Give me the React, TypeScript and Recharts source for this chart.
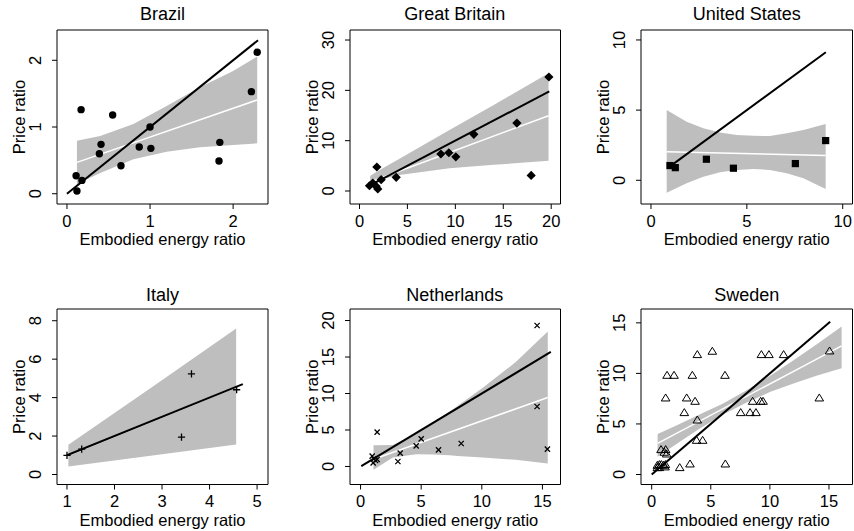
import { ComposedChart, XAxis, YAxis, Scatter, Line, Area, ReferenceArea, Label } from "recharts";

const FONT = '"Liberation Sans", Arial, Helvetica, sans-serif';

// Brazil
const brazilPoints = [
  [0.12, 0.04], [0.11, 0.27], [0.18, 0.2], [0.17, 1.26], [0.55, 1.18], [0.41, 0.74], [0.39, 0.6],
  [0.65, 0.42], [0.87, 0.7], [1.0, 1.0], [1.01, 0.68], [1.84, 0.77], [1.83, 0.49], [2.22, 1.53], [2.29, 2.12],
];
const brazilDiag = [[0, 0], [2.3, 2.3]];
const brazilFit = [[0.12, 0.47], [2.29, 1.405]];
const brazilBand = [
  [0.12, 0.145, 0.795], [0.4, 0.31, 0.865], [0.8, 0.515, 1.045], [1.2, 0.63, 1.315],
  [1.6, 0.695, 1.595], [2.0, 0.73, 1.84], [2.29, 0.755, 2.055],
];

// Great Britain
const gbPoints = [
  [1.04, 1.05], [1.39, 1.59], [1.74, 0.93], [1.91, 0.4], [2.26, 2.25], [1.81, 4.77],
  [3.83, 2.72], [8.49, 7.35], [9.32, 7.6], [10.05, 6.8], [11.93, 11.26], [16.42, 13.5], [17.91, 3.1], [19.76, 22.65],
];
const gbDiag = [[0.95, 0.95], [19.8, 19.8]];
const gbFit = [[1.12, 1.8], [19.72, 14.96]];
const gbBand = [
  [1.12, 1.4, 3.04], [2.43, 2.4, 4.5], [4.17, 3.2, 6.4], [9.39, 4.5, 12.1], [14, 5.2, 17.1], [19.72, 6.0, 23.4],
];

// United States
const usPoints = [[0.99, 1.05], [1.27, 0.9], [2.89, 1.5], [4.3, 0.86], [7.53, 1.19], [9.11, 2.83]];
const usDiag = [[1.1, 1.1], [9.12, 9.12]];
const usFit = [[0.82, 2.04], [9.11, 1.76]];
const usBand = [
  [0.82, -0.88, 5.01], [1.86, -0.21, 4.18], [2.73, 0.26, 3.7], [3.6, 0.57, 3.4], [4.47, 0.74, 3.23],
  [5.34, 0.8, 3.17], [6.2, 0.74, 3.16], [7.08, 0.5, 3.35], [7.95, 0.14, 3.59], [9.11, -0.62, 4.01],
];

// Italy
const italyPoints = [[1.0, 0.99], [1.31, 1.32], [3.62, 5.24], [3.41, 1.94], [4.57, 4.41]];
const italyDiag = [[1.0, 1.0], [4.7, 4.7]];
const italyFit = [[1.03, 1.0], [4.56, 4.55]];
const italyBand = [[1.03, 0.42, 1.55], [2.8, 0.99, 4.57], [4.56, 1.56, 7.59]];

// Netherlands
const nlPoints = [
  [14.56, 19.32], [14.56, 8.22], [15.41, 2.37], [8.3, 3.15], [6.43, 2.28], [5.0, 3.79], [4.59, 2.83],
  [3.27, 1.83], [3.08, 0.68], [1.37, 4.7], [0.96, 1.42], [1.1, 1.05], [1.24, 0.82], [1.04, 0.5], [1.37, 0.96],
];
const nlDiag = [[0.06, 0.06], [15.69, 15.69]];
const nlFit = [[1.07, 1.0], [15.44, 9.45]];
const nlBand = [
  [1.07, -0.45, 2.92], [2.66, 1.23, 2.95], [4, 1.55, 4.0], [4.59, 1.69, 4.6], [6, 1.65, 6.0], [7.33, 1.55, 7.5],
  [8, 1.45, 8.3], [10.08, 1.23, 10.8], [12.8, 0.91, 14.3], [15.44, 0.41, 18.5],
];

// Sweden
const swPoints = [
  [15.05, 12.2], [14.18, 7.55], [11.16, 11.84], [9.92, 11.84], [9.28, 11.84], [5.13, 12.17], [3.86, 11.84],
  [1.3, 9.79], [1.89, 9.79], [3.44, 9.79], [6.2, 9.79], [1.18, 7.55], [2.96, 7.55], [3.67, 7.22], [2.76, 6.1],
  [3.86, 5.37], [8.54, 7.22], [9.22, 7.22], [9.42, 7.22], [7.53, 6.1], [8.32, 6.1], [8.82, 6.1], [3.8, 3.36],
  [4.31, 3.36], [3.24, 1.02], [2.37, 0.66], [6.23, 1.02], [0.79, 2.44], [1.18, 2.44], [1.07, 2.18], [1.27, 2.01],
  [0.48, 0.89], [0.65, 0.96], [0.82, 0.96], [0.99, 0.89], [1.16, 0.96], [0.48, 0.66], [0.65, 0.66], [1.13, 0.73],
];
const swDiag = [[0, 0], [15.1, 15.1]];
const swFit = [[0.5, 3.07], [16.07, 12.73]];
const swBand = [
  [0.5, 1.75, 4.0], [2, 2.95, 4.8], [4, 4.5, 5.9], [6, 5.9, 7.0], [8, 7.1, 8.3], [10, 8.15, 9.75],
  [12, 9.0, 11.3], [14, 9.8, 12.9], [16.07, 10.5, 14.64],
];

const toXY = (arr: number[][]) => arr.map(([x, y]) => ({ x, y }));
const toBand = (arr: number[][]) => arr.map(([x, lo, hi]) => ({ x, range: [lo, hi] }));

const markers: Record<string, (cx: number, cy: number) => any> = {
  circle: (cx, cy) => <circle cx={cx} cy={cy} r={3.7} fill="#000" />,
  diamond: (cx, cy) => (
    <path d={`M${cx},${cy - 4.6}L${cx + 4.6},${cy}L${cx},${cy + 4.6}L${cx - 4.6},${cy}Z`} fill="#000" />
  ),
  square: (cx, cy) => <rect x={cx - 3.6} y={cy - 3.6} width={7.2} height={7.2} fill="#000" />,
  plus: (cx, cy) => (
    <path d={`M${cx - 3.6},${cy}H${cx + 3.6}M${cx},${cy - 3.6}V${cy + 3.6}`} stroke="#000" strokeWidth={1.3} />
  ),
  cross: (cx, cy) => (
    <path
      d={`M${cx - 2.6},${cy - 2.6}L${cx + 2.6},${cy + 2.6}M${cx - 2.6},${cy + 2.6}L${cx + 2.6},${cy - 2.6}`}
      stroke="#000"
      strokeWidth={1.3}
    />
  ),
  triangle: (cx, cy) => (
    <path
      d={`M${cx},${cy - 4.2}L${cx + 4.3},${cy + 2.8}L${cx - 4.3},${cy + 2.8}Z`}
      fill="none"
      stroke="#000"
      strokeWidth={1}
    />
  ),
};

const panels = [
  { title: "Brazil", points: brazilPoints, diag: brazilDiag, fit: brazilFit, band: brazilBand,
    xTicks: [0, 1, 2], yTicks: [0, 1, 2], xDomain: [-0.12, 2.42], yDomain: [-0.154, 2.454],
    marker: "circle", box: [57, 30, 268, 204], titleY: 20.7 },
  { title: "Great Britain", points: gbPoints, diag: gbDiag, fit: gbFit, band: gbBand,
    xTicks: [0, 5, 10, 15, 20], yTicks: [0, 10, 20, 30], xDomain: [-0.99, 20.97], yDomain: [-2.58, 31.99],
    marker: "diamond", box: [349.5, 30, 560, 204], titleY: 20.7 },
  { title: "United States", points: usPoints, diag: usDiag, fit: usFit, band: usBand,
    xTicks: [0, 5, 10], yTicks: [0, 5, 10], xDomain: [-0.52, 10.51], yDomain: [-1.69, 10.71],
    marker: "square", box: [641, 30, 852.5, 204], titleY: 20.7 },
  { title: "Italy", points: italyPoints, diag: italyDiag, fit: italyFit, band: italyBand,
    xTicks: [1, 2, 3, 4, 5], yTicks: [0, 2, 4, 6, 8], xDomain: [0.79, 5.23], yDomain: [-0.52, 8.61],
    marker: "plus", box: [57, 308.5, 268, 484], titleY: 301 },
  { title: "Netherlands", points: nlPoints, diag: nlDiag, fit: nlFit, band: nlBand,
    xTicks: [0, 5, 10, 15], yTicks: [0, 5, 10, 15, 20], xDomain: [-0.87, 16.49], yDomain: [-2.47, 21.58],
    marker: "cross", box: [349.5, 308.5, 560, 484], titleY: 301 },
  { title: "Sweden", points: swPoints, diag: swDiag, fit: swFit, band: swBand,
    xTicks: [0, 5, 10, 15], yTicks: [0, 5, 10, 15], xDomain: [-0.905, 16.99], yDomain: [-0.99, 16.37],
    marker: "triangle", box: [641, 308.5, 852.5, 484], titleY: 301 },
];

const ML = 57;
const MT = 30;

function Panel({ p }: { p: any }) {
  const [bx, by, bx2, by2] = p.box;
  const bw = bx2 - bx;
  const bh = by2 - by;
  const W = ML + bw + 4;
  const H = MT + bh + 50;
  const mark = markers[p.marker];

  const xTick = ({ x, payload }: any) => (
    <text x={x} y={MT + bh + 22.7} textAnchor="middle" fontSize={16.5} fontFamily={FONT} fill="#000">
      {payload.value}
    </text>
  );
  const yTick = ({ y, payload }: any) => (
    <text
      x={ML - 15.5}
      y={y}
      transform={`rotate(-90, ${ML - 15.5}, ${y})`}
      textAnchor="middle"
      fontSize={16.5}
      fontFamily={FONT}
      fill="#000"
    >
      {payload.value}
    </text>
  );

  return (
    <>
      <div
        style={{
          position: "absolute", left: bx, top: p.titleY - 15.3, width: bw, textAlign: "center",
          fontSize: 18, lineHeight: "18px", fontFamily: FONT, fontWeight: 400, color: "#000", whiteSpace: "nowrap",
        }}
      >
        {p.title}
      </div>
      <div style={{ position: "absolute", left: bx - ML, top: by - MT }}>
        <ComposedChart width={W} height={H} margin={{ top: MT, right: 4, left: 0, bottom: 0 }}>
          <XAxis
            type="number"
            dataKey="x"
            domain={p.xDomain}
            ticks={p.xTicks}
            allowDataOverflow
            axisLine={false}
            tickLine={{ stroke: "#000" }}
            tickSize={5}
            height={50}
            tick={xTick}
            interval={0}
          >
            <Label
              content={() => (
                <text x={ML + bw / 2} y={MT + bh + 41} textAnchor="middle" fontSize={16.5} fontFamily={FONT} fill="#000">
                  Embodied energy ratio
                </text>
              )}
            />
          </XAxis>
          <YAxis
            type="number"
            dataKey="y"
            domain={p.yDomain}
            ticks={p.yTicks}
            allowDataOverflow
            axisLine={false}
            tickLine={{ stroke: "#000" }}
            tickSize={5}
            width={ML}
            tick={yTick}
            interval={0}
          >
            <Label
              content={() => (
                <text
                  x={ML - 32.5}
                  y={MT + bh / 2}
                  transform={`rotate(-90, ${ML - 32.5}, ${MT + bh / 2})`}
                  textAnchor="middle"
                  fontSize={16.5}
                  fontFamily={FONT}
                  fill="#000"
                >
                  Price ratio
                </text>
              )}
            />
          </YAxis>
          <Area
            data={toBand(p.band)}
            dataKey="range"
            type="linear"
            stroke="none"
            fill="#BEBEBE"
            fillOpacity={1}
            dot={false}
            activeDot={false}
            isAnimationActive={false}
          />
          <Line
            data={toXY(p.fit)}
            dataKey="y"
            type="linear"
            stroke="#FFFFFF"
            strokeWidth={1.5}
            dot={false}
            activeDot={false}
            isAnimationActive={false}
          />
          <Line
            data={toXY(p.diag)}
            dataKey="y"
            type="linear"
            stroke="#000"
            strokeWidth={2}
            dot={false}
            activeDot={false}
            isAnimationActive={false}
          />
          <Scatter
            data={toXY(p.points)}
            dataKey="y"
            isAnimationActive={false}
            shape={(s: any) => mark(s.cx, s.cy)}
          />
          <ReferenceArea
            x1={p.xDomain[0]}
            x2={p.xDomain[1]}
            y1={p.yDomain[0]}
            y2={p.yDomain[1]}
            fill="none"
            stroke="#000"
            strokeWidth={1}
            ifOverflow="visible"
          />
        </ComposedChart>
      </div>
    </>
  );
}

export default function App() {
  return (
    <div style={{ position: "absolute", left: 0, top: 0, width: 854, height: 531, background: "#fff" }}>
      {panels.map((p) => (
        <Panel key={p.title} p={p} />
      ))}
    </div>
  );
}
